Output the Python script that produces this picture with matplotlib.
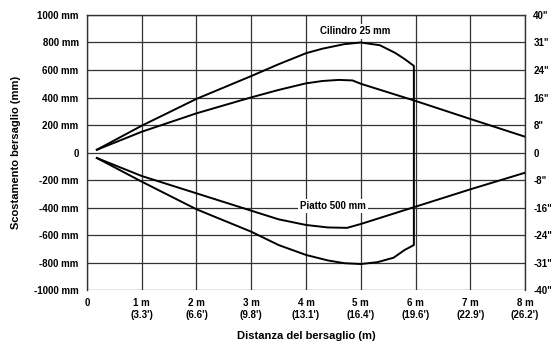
import matplotlib
matplotlib.use("Agg")
import matplotlib.pyplot as plt

plt.rcParams['font.family'] = ['Liberation Sans', 'DejaVu Sans']
plt.rcParams['font.weight'] = 'bold'

# cylinder 25 mm: upper branch, then the edge at 6 m, then lower branch
cyl_x = [0.18, 1, 2, 3, 3.5, 4, 4.3, 4.7, 5, 5.35, 5.63, 5.8, 5.97,
         5.97, 5.8, 5.6, 5.3, 5, 4.7, 4.4, 4, 3.5, 3, 2, 1, 0.18]
cyl_y = [20, 195, 390, 556, 642, 722, 755, 788, 800, 780, 724, 680, 630,
         -673, -709, -765, -798, -811, -805, -785, -745, -673, -576, -413, -212, -40]

# flat target 500 mm
flat_up_x = [0.18, 1, 2, 3, 3.5, 4, 4.3, 4.6, 4.85, 5, 6, 7, 8]
flat_up_y = [20, 151, 285, 401, 455, 503, 520, 528, 524, 500, 375, 244, 115]
flat_lo_x = [0.18, 1, 2, 3, 3.5, 4, 4.4, 4.75, 5, 6, 7, 8]
flat_lo_y = [-40, -171, -297, -423, -486, -527, -545, -548, -520, -394, -268, -147]

y_ticks = [1000, 800, 600, 400, 200, 0, -200, -400, -600, -800, -1000]
y_labels = ['1000 mm', '800 mm', '600 mm', '400 mm', '200 mm', '0',
            '-200 mm', '-400 mm', '-600 mm', '-800 mm', '-1000 mm']
y_labels_in = ['40"', '31"', '24"', '16"', '8"', '0',
               '-8"', '-16"', '-24"', '-31"', '-40"']
x_ticks = [0, 1, 2, 3, 4, 5, 6, 7, 8]
x_labels = ['0', "1 m\n(3.3')", "2 m\n(6.6')", "3 m\n(9.8')", "4 m\n(13.1')",
            "5 m\n(16.4')", "6 m\n(19.6')", "7 m\n(22.9')", "8 m\n(26.2')"]

fig = plt.figure(figsize=(5.53, 3.52), dpi=100)
ax = fig.add_axes([0.1573, 0.1761, 0.7921, 0.7813])

ax.set_xlim(0, 8)
ax.set_ylim(-1000, 1000)
ax.set_xticks(x_ticks)
ax.set_xticklabels(x_labels, fontsize=7, va='top')
ax.set_yticks(y_ticks)
ax.set_yticklabels(y_labels, fontsize=7)
ax.tick_params(length=0, pad=6)
ax.grid(True, color='#333333', lw=0.9)
ax.set_axisbelow(True)
for s in ax.spines.values():
    s.set_color('#333333')
    s.set_linewidth(1.0)
ax.spines['bottom'].set_visible(False)

ax.plot(cyl_x, cyl_y, color='black', lw=1.4)
ax.plot(flat_up_x, flat_up_y, color='black', lw=1.4)
ax.plot(flat_lo_x, flat_lo_y, color='black', lw=1.4)

ax.text(4.9, 880, 'Cilindro 25 mm', fontsize=7, ha='center', va='center',
        bbox=dict(facecolor='white', edgecolor='none', pad=1.5))
ax.text(4.5, -390, 'Piatto 500 mm', fontsize=7, ha='center', va='center',
        bbox=dict(facecolor='white', edgecolor='none', pad=1.5))

ax2 = ax.twinx()
ax2.set_ylim(-1000, 1000)
ax2.set_yticks(y_ticks)
ax2.set_yticklabels(y_labels_in, fontsize=7)
ax2.tick_params(length=0, pad=6)
for s in ax2.spines.values():
    s.set_visible(False)

ax.set_xlabel('Distanza del bersaglio (m)', fontsize=8, fontweight='bold', labelpad=8)
ax.set_ylabel('Scostamento bersaglio (mm)', fontsize=8, fontweight='bold', labelpad=9)

fig.savefig('out.png', dpi=100)
